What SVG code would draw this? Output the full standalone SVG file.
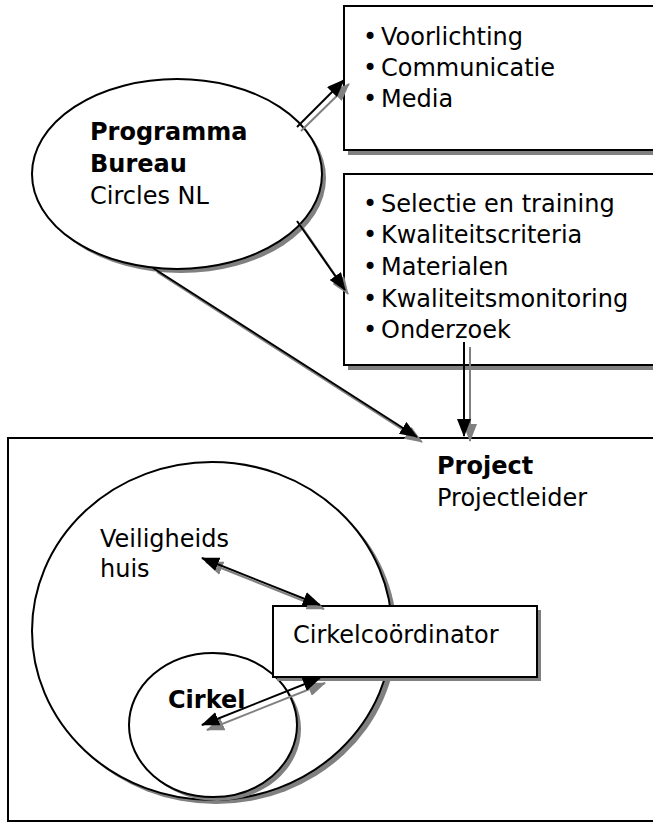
<svg xmlns="http://www.w3.org/2000/svg" width="653" height="823" viewBox="0 0 653 823">
<style>
  text { font-family: "DejaVu Sans", Verdana, sans-serif; font-size: 24px; fill: #000; }
  .b { font-weight: bold; }
  .shape { fill: #fff; stroke: #000; stroke-width: 2; }
  .shadow { fill: #808080; stroke: none; }
  .ln { stroke: #000; stroke-width: 2; fill: none; }
  .lg { stroke: #808080; stroke-width: 2; fill: none; }
</style>
<defs>
  <marker id="ab" viewBox="0 0 18 14" markerWidth="18" markerHeight="14" refX="17" refY="7" orient="auto-start-reverse" markerUnits="userSpaceOnUse">
    <path d="M0,0 L18,7 L0,14 z" fill="#000"/>
  </marker>
  <marker id="ag" viewBox="0 0 18 14" markerWidth="18" markerHeight="14" refX="17" refY="7" orient="auto-start-reverse" markerUnits="userSpaceOnUse">
    <path d="M0,0 L18,7 L0,14 z" fill="#808080"/>
  </marker>
</defs>
<rect width="653" height="823" fill="#fff"/>

<g id="project">
  <rect class="shape" x="8" y="438" width="660" height="383"/>
  <text class="b" x="437" y="474">Project</text>
  <text x="437" y="506">Projectleider</text>
</g>

<g id="veiligheidshuis">
  <ellipse class="shadow" cx="216" cy="635" rx="181" ry="169"/>
  <ellipse class="shape" cx="212" cy="631" rx="180" ry="169"/>
  <text x="100" y="547">Veiligheids</text>
  <text x="100" y="577">huis</text>
</g>

<g id="cirkel">
  <ellipse class="shadow" cx="217" cy="729" rx="84" ry="72"/>
  <ellipse class="shape" cx="213" cy="725" rx="84" ry="72"/>
  <text class="b" x="168" y="708">Cirkel</text>
</g>

<g id="cirkelcoordinator">
  <rect class="shadow" x="277" y="610" width="264" height="71"/>
  <rect class="shape" x="273" y="606" width="264" height="71"/>
  <text x="293" y="643">Cirkelcoördinator</text>
</g>

<g id="programmabureau">
  <ellipse class="shadow" cx="181" cy="178" rx="145" ry="95"/>
  <ellipse class="shape" cx="177" cy="174" rx="145" ry="95"/>
  <text class="b" x="90" y="140">Programma</text>
  <text class="b" x="90" y="172">Bureau</text>
  <text x="90" y="204">Circles NL</text>
</g>

<g id="box-communicatie">
  <rect class="shadow" x="348" y="10" width="320" height="145"/>
  <rect class="shape" x="344" y="6" width="320" height="144"/>
  <text x="370" y="45" text-anchor="middle">•</text>
  <text x="381" y="45">Voorlichting</text>
  <text x="370" y="76" text-anchor="middle">•</text>
  <text x="381" y="76">Communicatie</text>
  <text x="370" y="107" text-anchor="middle">•</text>
  <text x="381" y="107">Media</text>
</g>

<g id="box-kwaliteit">
  <rect class="shadow" x="348" y="178" width="320" height="192"/>
  <rect class="shape" x="344" y="174" width="320" height="191"/>
  <text x="370" y="212" text-anchor="middle">•</text>
  <text x="381" y="212">Selectie en training</text>
  <text x="370" y="243" text-anchor="middle">•</text>
  <text x="381" y="243">Kwaliteitscriteria</text>
  <text x="370" y="275" text-anchor="middle">•</text>
  <text x="381" y="275">Materialen</text>
  <text x="370" y="307" text-anchor="middle">•</text>
  <text x="381" y="307">Kwaliteitsmonitoring</text>
  <text x="370" y="338" text-anchor="middle">•</text>
  <text x="381" y="338">Onderzoek</text>
</g>

<g id="connectors">
  <line class="lg" x1="301" y1="131" x2="349" y2="84" marker-end="url(#ag)"/>
  <line class="ln" x1="297" y1="127" x2="344" y2="80" marker-end="url(#ab)"/>

  <line class="lg" x1="300" y1="224" x2="348" y2="294" marker-end="url(#ag)"/>
  <line class="ln" x1="297" y1="221" x2="345" y2="290" marker-end="url(#ab)"/>

  <line class="lg" x1="157" y1="272" x2="422" y2="442" marker-end="url(#ag)"/>
  <line class="ln" x1="153" y1="268" x2="417" y2="437" marker-end="url(#ab)"/>

  <line class="lg" x1="470" y1="347" x2="470" y2="441" marker-end="url(#ag)"/>
  <line class="ln" x1="464" y1="342" x2="464" y2="436" marker-end="url(#ab)"/>

  <line class="lg" x1="206" y1="562" x2="324" y2="609" marker-start="url(#ag)" marker-end="url(#ag)"/>
  <line class="ln" x1="202" y1="558" x2="320" y2="605" marker-start="url(#ab)" marker-end="url(#ab)"/>

  <line class="lg" x1="207" y1="730" x2="325" y2="683" marker-start="url(#ag)" marker-end="url(#ag)"/>
  <line class="ln" x1="202" y1="725" x2="320" y2="678" marker-start="url(#ab)" marker-end="url(#ab)"/>
</g>
</svg>
